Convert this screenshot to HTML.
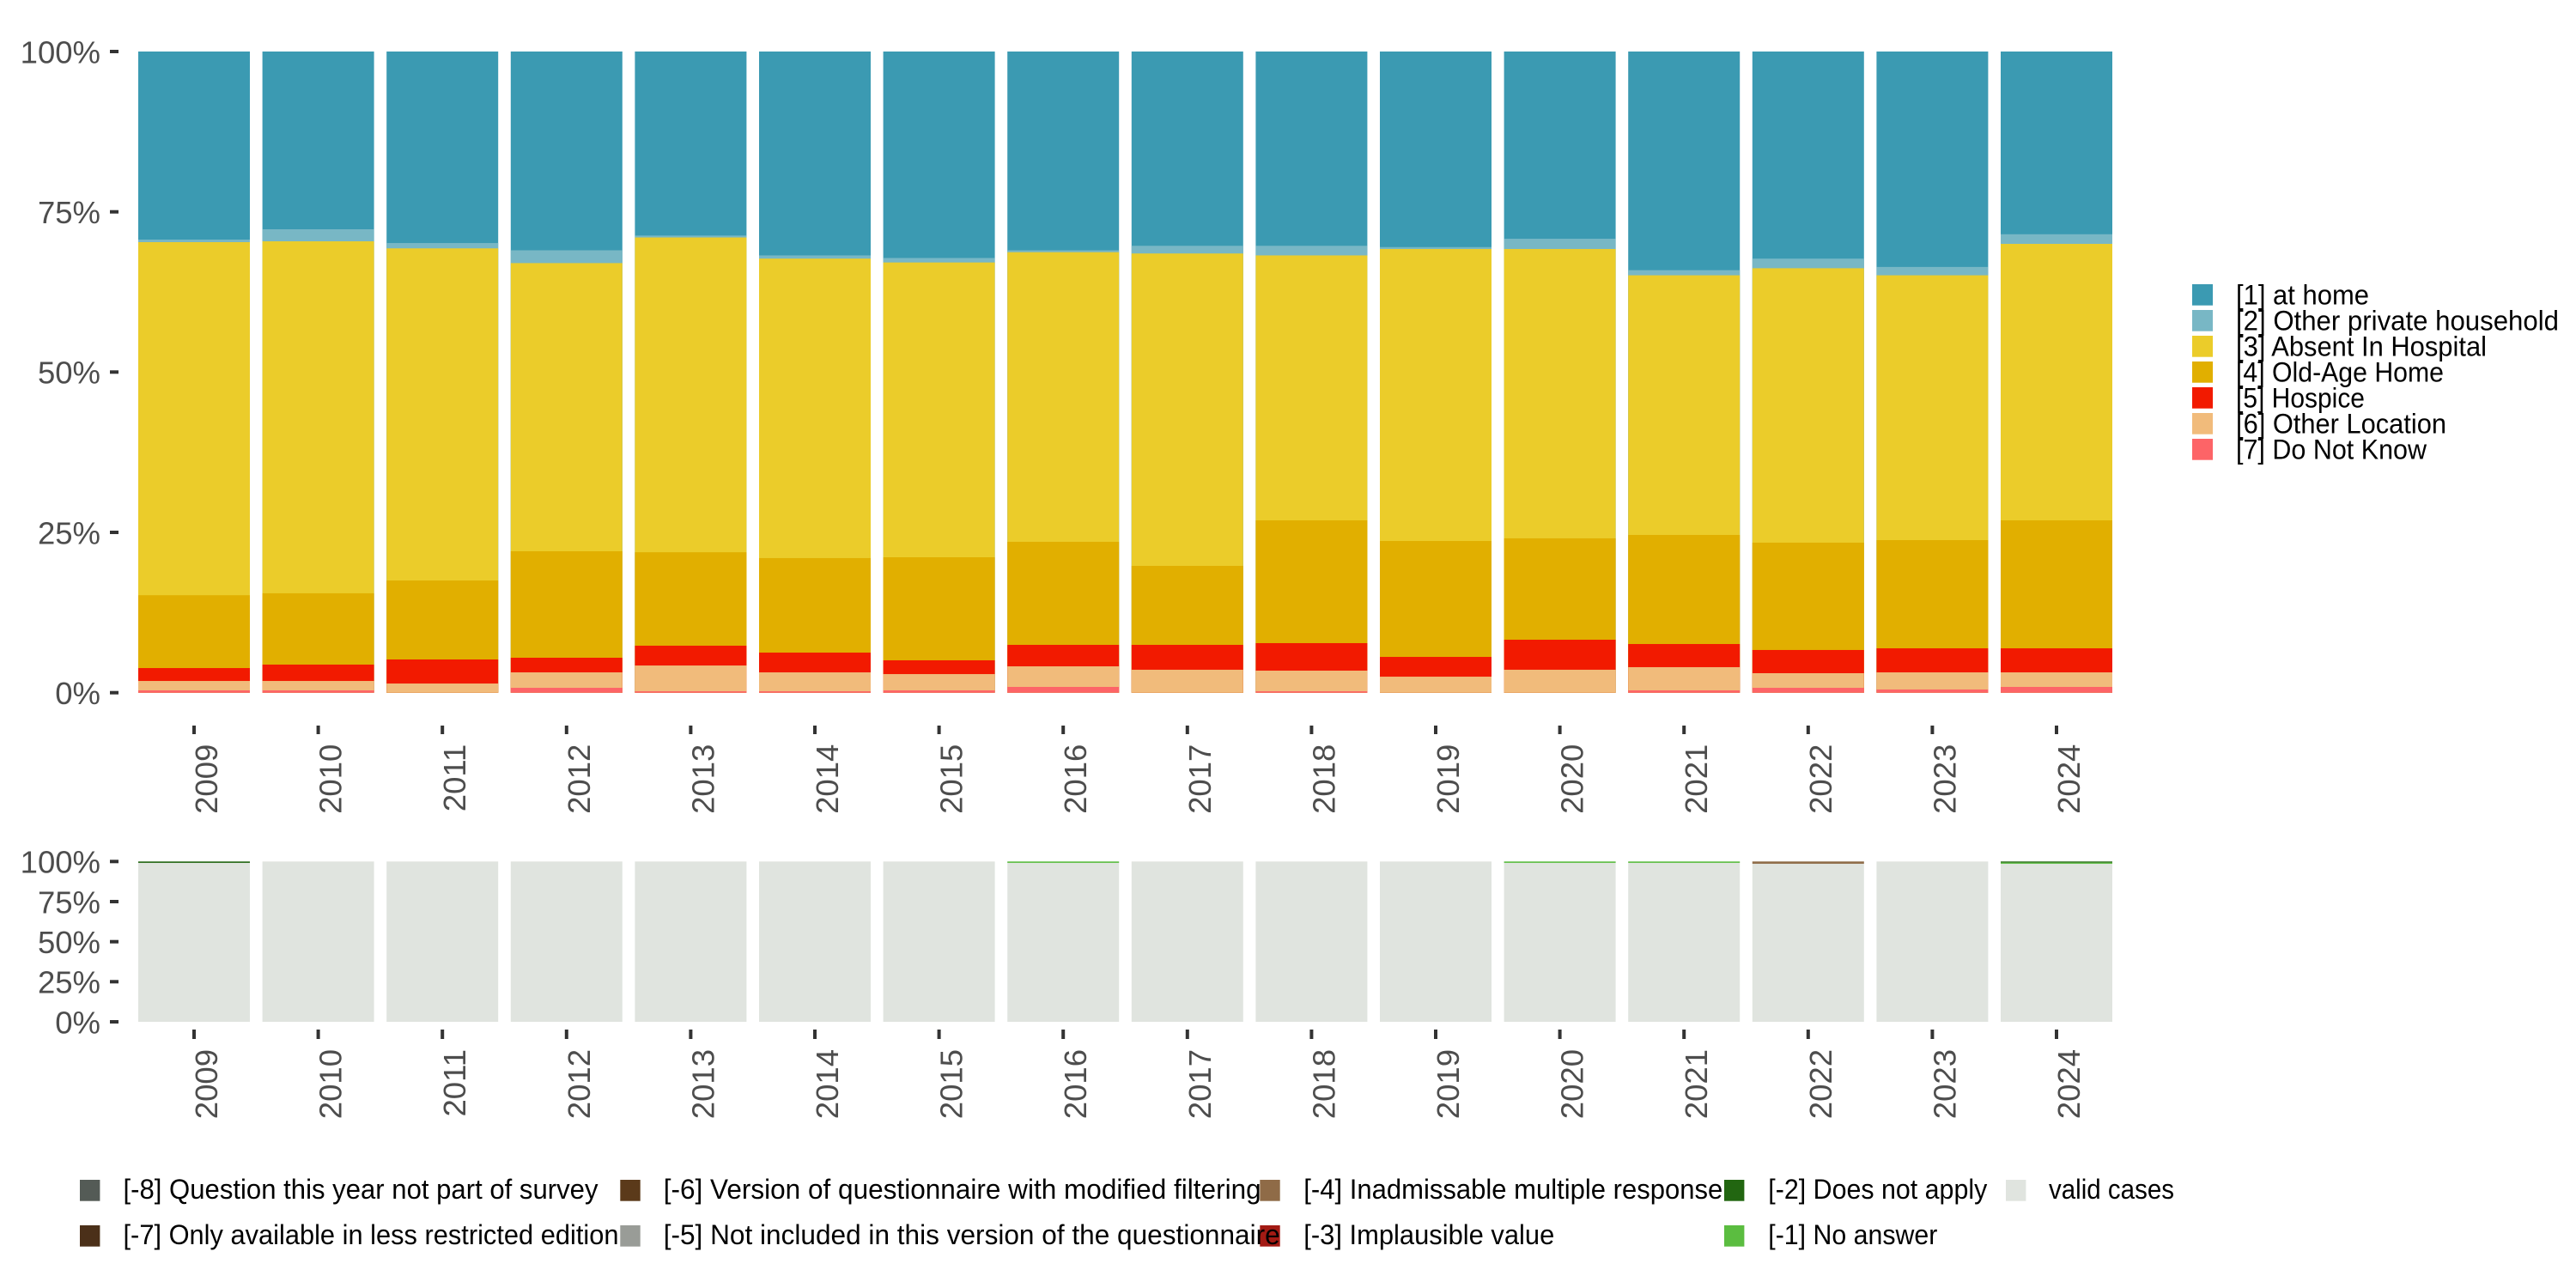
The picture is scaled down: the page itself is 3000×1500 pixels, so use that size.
<!DOCTYPE html>
<html>
<head>
<meta charset="utf-8">
<style>
html,body{margin:0;padding:0;background:#fff;}
svg{display:block;}
text{font-family:"Liberation Sans","DejaVu Sans",sans-serif;}
</style>
</head>
<body>
<svg width="3000" height="1500" viewBox="0 0 3000 1500" xmlns="http://www.w3.org/2000/svg">
<rect x="0" y="0" width="3000" height="1500" fill="#ffffff"/>

<!-- ===== TOP PLOT BARS ===== -->
<g transform="translate(0,806.7) scale(1,-7.467)">
  <g transform="translate(161,0)">
    <rect width="130" height="100" fill="#3B9AB2"/>
    <rect width="130" height="70.67" fill="#78B7C5"/>
    <rect width="130" height="70.27" fill="#EBCC2A"/>
    <rect width="130" height="15.2" fill="#E1AF00"/>
    <rect width="130" height="3.84" fill="#F21A00"/>
    <rect width="130" height="1.83" fill="#F1BB7B"/>
    <rect width="130" height="0.36" fill="#FD6467"/>
  </g>
  <g transform="translate(305.6,0)">
    <rect width="130" height="100" fill="#3B9AB2"/>
    <rect width="130" height="72.28" fill="#78B7C5"/>
    <rect width="130" height="70.4" fill="#EBCC2A"/>
    <rect width="130" height="15.5" fill="#E1AF00"/>
    <rect width="130" height="4.38" fill="#F21A00"/>
    <rect width="130" height="1.83" fill="#F1BB7B"/>
    <rect width="130" height="0.36" fill="#FD6467"/>
  </g>
  <g transform="translate(450.2,0)">
    <rect width="130" height="100" fill="#3B9AB2"/>
    <rect width="130" height="70.13" fill="#78B7C5"/>
    <rect width="130" height="69.3" fill="#EBCC2A"/>
    <rect width="130" height="17.5" fill="#E1AF00"/>
    <rect width="130" height="5.18" fill="#F21A00"/>
    <rect width="130" height="1.43" fill="#F1BB7B"/>
  </g>
  <g transform="translate(594.8,0)">
    <rect width="130" height="100" fill="#3B9AB2"/>
    <rect width="130" height="69.0" fill="#78B7C5"/>
    <rect width="130" height="67.0" fill="#EBCC2A"/>
    <rect width="130" height="22.06" fill="#E1AF00"/>
    <rect width="130" height="5.45" fill="#F21A00"/>
    <rect width="130" height="3.17" fill="#F1BB7B"/>
    <rect width="130" height="0.76" fill="#FD6467"/>
  </g>
  <g transform="translate(739.4,0)">
    <rect width="130" height="100" fill="#3B9AB2"/>
    <rect width="130" height="71.3" fill="#78B7C5"/>
    <rect width="130" height="71.0" fill="#EBCC2A"/>
    <rect width="130" height="21.9" fill="#E1AF00"/>
    <rect width="130" height="7.33" fill="#F21A00"/>
    <rect width="130" height="4.24" fill="#F1BB7B"/>
    <rect width="130" height="0.22" fill="#FD6467"/>
  </g>
  <g transform="translate(884,0)">
    <rect width="130" height="100" fill="#3B9AB2"/>
    <rect width="130" height="68.2" fill="#78B7C5"/>
    <rect width="130" height="67.7" fill="#EBCC2A"/>
    <rect width="130" height="20.99" fill="#E1AF00"/>
    <rect width="130" height="6.25" fill="#F21A00"/>
    <rect width="130" height="3.17" fill="#F1BB7B"/>
    <rect width="130" height="0.22" fill="#FD6467"/>
  </g>
  <g transform="translate(1028.6,0)">
    <rect width="130" height="100" fill="#3B9AB2"/>
    <rect width="130" height="67.8" fill="#78B7C5"/>
    <rect width="130" height="67.1" fill="#EBCC2A"/>
    <rect width="130" height="21.12" fill="#E1AF00"/>
    <rect width="130" height="5.05" fill="#F21A00"/>
    <rect width="130" height="2.9" fill="#F1BB7B"/>
    <rect width="130" height="0.36" fill="#FD6467"/>
  </g>
  <g transform="translate(1173.2,0)">
    <rect width="130" height="100" fill="#3B9AB2"/>
    <rect width="130" height="69.0" fill="#78B7C5"/>
    <rect width="130" height="68.7" fill="#EBCC2A"/>
    <rect width="130" height="23.53" fill="#E1AF00"/>
    <rect width="130" height="7.46" fill="#F21A00"/>
    <rect width="130" height="4.11" fill="#F1BB7B"/>
    <rect width="130" height="0.9" fill="#FD6467"/>
  </g>
  <g transform="translate(1317.8,0)">
    <rect width="130" height="100" fill="#3B9AB2"/>
    <rect width="130" height="69.7" fill="#78B7C5"/>
    <rect width="130" height="68.5" fill="#EBCC2A"/>
    <rect width="130" height="19.78" fill="#E1AF00"/>
    <rect width="130" height="7.46" fill="#F21A00"/>
    <rect width="130" height="3.58" fill="#F1BB7B"/>
  </g>
  <g transform="translate(1462.4,0)">
    <rect width="130" height="100" fill="#3B9AB2"/>
    <rect width="130" height="69.7" fill="#78B7C5"/>
    <rect width="130" height="68.2" fill="#EBCC2A"/>
    <rect width="130" height="26.88" fill="#E1AF00"/>
    <rect width="130" height="7.73" fill="#F21A00"/>
    <rect width="130" height="3.44" fill="#F1BB7B"/>
    <rect width="130" height="0.22" fill="#FD6467"/>
  </g>
  <g transform="translate(1607,0)">
    <rect width="130" height="100" fill="#3B9AB2"/>
    <rect width="130" height="69.5" fill="#78B7C5"/>
    <rect width="130" height="69.2" fill="#EBCC2A"/>
    <rect width="130" height="23.66" fill="#E1AF00"/>
    <rect width="130" height="5.58" fill="#F21A00"/>
    <rect width="130" height="2.5" fill="#F1BB7B"/>
  </g>
  <g transform="translate(1751.6,0)">
    <rect width="130" height="100" fill="#3B9AB2"/>
    <rect width="130" height="70.8" fill="#78B7C5"/>
    <rect width="130" height="69.2" fill="#EBCC2A"/>
    <rect width="130" height="24.07" fill="#E1AF00"/>
    <rect width="130" height="8.26" fill="#F21A00"/>
    <rect width="130" height="3.58" fill="#F1BB7B"/>
  </g>
  <g transform="translate(1896.2,0)">
    <rect width="130" height="100" fill="#3B9AB2"/>
    <rect width="130" height="65.9" fill="#78B7C5"/>
    <rect width="130" height="65.1" fill="#EBCC2A"/>
    <rect width="130" height="24.6" fill="#E1AF00"/>
    <rect width="130" height="7.59" fill="#F21A00"/>
    <rect width="130" height="3.98" fill="#F1BB7B"/>
    <rect width="130" height="0.36" fill="#FD6467"/>
  </g>
  <g transform="translate(2040.8,0)">
    <rect width="130" height="100" fill="#3B9AB2"/>
    <rect width="130" height="67.7" fill="#78B7C5"/>
    <rect width="130" height="66.2" fill="#EBCC2A"/>
    <rect width="130" height="23.4" fill="#E1AF00"/>
    <rect width="130" height="6.66" fill="#F21A00"/>
    <rect width="130" height="3.04" fill="#F1BB7B"/>
    <rect width="130" height="0.76" fill="#FD6467"/>
  </g>
  <g transform="translate(2185.4,0)">
    <rect width="130" height="100" fill="#3B9AB2"/>
    <rect width="130" height="66.4" fill="#78B7C5"/>
    <rect width="130" height="65.1" fill="#EBCC2A"/>
    <rect width="130" height="23.8" fill="#E1AF00"/>
    <rect width="130" height="6.92" fill="#F21A00"/>
    <rect width="130" height="3.17" fill="#F1BB7B"/>
    <rect width="130" height="0.5" fill="#FD6467"/>
  </g>
  <g transform="translate(2330,0)">
    <rect width="130" height="100" fill="#3B9AB2"/>
    <rect width="130" height="71.5" fill="#78B7C5"/>
    <rect width="130" height="70.0" fill="#EBCC2A"/>
    <rect width="130" height="26.88" fill="#E1AF00"/>
    <rect width="130" height="6.92" fill="#F21A00"/>
    <rect width="130" height="3.17" fill="#F1BB7B"/>
    <rect width="130" height="0.9" fill="#FD6467"/>
  </g>
</g>

<!-- ===== TOP Y AXIS ===== -->
<g stroke="#333333" stroke-width="4">
  <line x1="128" y1="60" x2="138" y2="60"/>
  <line x1="128" y1="246.7" x2="138" y2="246.7"/>
  <line x1="128" y1="433.3" x2="138" y2="433.3"/>
  <line x1="128" y1="620" x2="138" y2="620"/>
  <line x1="128" y1="806.7" x2="138" y2="806.7"/>
</g>
<g font-size="36.5" fill="#4D4D4D" text-anchor="end">
  <text x="117" y="73.3">100%</text>
  <text x="117" y="260">75%</text>
  <text x="117" y="446.6">50%</text>
  <text x="117" y="633.3">25%</text>
  <text x="117" y="820">0%</text>
</g>

<!-- ===== TOP X AXIS ===== -->
<g stroke="#333333" stroke-width="4">
  <line x1="226" y1="845" x2="226" y2="855"/>
  <line x1="370.6" y1="845" x2="370.6" y2="855"/>
  <line x1="515.2" y1="845" x2="515.2" y2="855"/>
  <line x1="659.8" y1="845" x2="659.8" y2="855"/>
  <line x1="804.4" y1="845" x2="804.4" y2="855"/>
  <line x1="949" y1="845" x2="949" y2="855"/>
  <line x1="1093.6" y1="845" x2="1093.6" y2="855"/>
  <line x1="1238.2" y1="845" x2="1238.2" y2="855"/>
  <line x1="1382.8" y1="845" x2="1382.8" y2="855"/>
  <line x1="1527.4" y1="845" x2="1527.4" y2="855"/>
  <line x1="1672" y1="845" x2="1672" y2="855"/>
  <line x1="1816.6" y1="845" x2="1816.6" y2="855"/>
  <line x1="1961.2" y1="845" x2="1961.2" y2="855"/>
  <line x1="2105.8" y1="845" x2="2105.8" y2="855"/>
  <line x1="2250.4" y1="845" x2="2250.4" y2="855"/>
  <line x1="2395" y1="845" x2="2395" y2="855"/>
</g>
<g font-size="36.5" fill="#4D4D4D" text-anchor="end">
  <text transform="translate(253,866.7) rotate(-90)">2009</text>
  <text transform="translate(397.6,866.7) rotate(-90)">2010</text>
  <text transform="translate(542.2,866.7) rotate(-90)">2011</text>
  <text transform="translate(686.8,866.7) rotate(-90)">2012</text>
  <text transform="translate(831.4,866.7) rotate(-90)">2013</text>
  <text transform="translate(976,866.7) rotate(-90)">2014</text>
  <text transform="translate(1120.6,866.7) rotate(-90)">2015</text>
  <text transform="translate(1265.2,866.7) rotate(-90)">2016</text>
  <text transform="translate(1409.8,866.7) rotate(-90)">2017</text>
  <text transform="translate(1554.4,866.7) rotate(-90)">2018</text>
  <text transform="translate(1699,866.7) rotate(-90)">2019</text>
  <text transform="translate(1843.6,866.7) rotate(-90)">2020</text>
  <text transform="translate(1988.2,866.7) rotate(-90)">2021</text>
  <text transform="translate(2132.8,866.7) rotate(-90)">2022</text>
  <text transform="translate(2277.4,866.7) rotate(-90)">2023</text>
  <text transform="translate(2422,866.7) rotate(-90)">2024</text>
</g>

<!-- ===== RIGHT LEGEND ===== -->
<g>
  <rect x="2553" y="331" width="24" height="24.7" fill="#3B9AB2"/>
  <rect x="2553" y="361" width="24" height="24.7" fill="#78B7C5"/>
  <rect x="2553" y="391" width="24" height="24.7" fill="#EBCC2A"/>
  <rect x="2553" y="421" width="24" height="24.7" fill="#E1AF00"/>
  <rect x="2553" y="451" width="24" height="24.7" fill="#F21A00"/>
  <rect x="2553" y="481" width="24" height="24.7" fill="#F1BB7B"/>
  <rect x="2553" y="511" width="24" height="24.7" fill="#FD6467"/>
</g>
<g font-size="32.5" fill="#000000">
  <text x="2604" y="354.3" textLength="155" lengthAdjust="spacingAndGlyphs">[1] at home</text>
  <text x="2604" y="384.3" textLength="376" lengthAdjust="spacingAndGlyphs">[2] Other private household</text>
  <text x="2604" y="414.3" textLength="292" lengthAdjust="spacingAndGlyphs">[3] Absent In Hospital</text>
  <text x="2604" y="444.3" textLength="242" lengthAdjust="spacingAndGlyphs">[4] Old-Age Home</text>
  <text x="2604" y="474.3" textLength="150" lengthAdjust="spacingAndGlyphs">[5] Hospice</text>
  <text x="2604" y="504.3" textLength="245" lengthAdjust="spacingAndGlyphs">[6] Other Location</text>
  <text x="2604" y="534.3" textLength="222" lengthAdjust="spacingAndGlyphs">[7] Do Not Know</text>
</g>

<!-- ===== BOTTOM PLOT BARS ===== -->
<g fill="#E0E4DF">
  <rect x="161" y="1003.3" width="130" height="186.7"/>
  <rect x="305.6" y="1003.3" width="130" height="186.7"/>
  <rect x="450.2" y="1003.3" width="130" height="186.7"/>
  <rect x="594.8" y="1003.3" width="130" height="186.7"/>
  <rect x="739.4" y="1003.3" width="130" height="186.7"/>
  <rect x="884" y="1003.3" width="130" height="186.7"/>
  <rect x="1028.6" y="1003.3" width="130" height="186.7"/>
  <rect x="1173.2" y="1003.3" width="130" height="186.7"/>
  <rect x="1317.8" y="1003.3" width="130" height="186.7"/>
  <rect x="1462.4" y="1003.3" width="130" height="186.7"/>
  <rect x="1607" y="1003.3" width="130" height="186.7"/>
  <rect x="1751.6" y="1003.3" width="130" height="186.7"/>
  <rect x="1896.2" y="1003.3" width="130" height="186.7"/>
  <rect x="2040.8" y="1003.3" width="130" height="186.7"/>
  <rect x="2185.4" y="1003.3" width="130" height="186.7"/>
  <rect x="2330" y="1003.3" width="130" height="186.7"/>
</g>
<rect x="161" y="1003.3" width="130" height="1.6" fill="#226611"/>
<rect x="1173.2" y="1003.3" width="130" height="1.6" fill="#5BBD40"/>
<rect x="1751.6" y="1003.3" width="130" height="1.6" fill="#5BBD40"/>
<rect x="1896.2" y="1003.3" width="130" height="1.6" fill="#5BBD40"/>
<rect x="2040.8" y="1003.3" width="130" height="2.6" fill="#8F6B47"/>
<rect x="2330" y="1003.3" width="130" height="1.3" fill="#226611"/>
<rect x="2330" y="1004.6" width="130" height="1.3" fill="#5BBD40"/>

<!-- ===== BOTTOM Y AXIS ===== -->
<g stroke="#333333" stroke-width="4">
  <line x1="128" y1="1003.3" x2="138" y2="1003.3"/>
  <line x1="128" y1="1050" x2="138" y2="1050"/>
  <line x1="128" y1="1096.7" x2="138" y2="1096.7"/>
  <line x1="128" y1="1143.3" x2="138" y2="1143.3"/>
  <line x1="128" y1="1190" x2="138" y2="1190"/>
</g>
<g font-size="36.5" fill="#4D4D4D" text-anchor="end">
  <text x="117" y="1016.6">100%</text>
  <text x="117" y="1063.3">75%</text>
  <text x="117" y="1110">50%</text>
  <text x="117" y="1156.6">25%</text>
  <text x="117" y="1203.3">0%</text>
</g>

<!-- ===== BOTTOM X AXIS ===== -->
<g stroke="#333333" stroke-width="4">
  <line x1="226" y1="1199" x2="226" y2="1210"/>
  <line x1="370.6" y1="1199" x2="370.6" y2="1210"/>
  <line x1="515.2" y1="1199" x2="515.2" y2="1210"/>
  <line x1="659.8" y1="1199" x2="659.8" y2="1210"/>
  <line x1="804.4" y1="1199" x2="804.4" y2="1210"/>
  <line x1="949" y1="1199" x2="949" y2="1210"/>
  <line x1="1093.6" y1="1199" x2="1093.6" y2="1210"/>
  <line x1="1238.2" y1="1199" x2="1238.2" y2="1210"/>
  <line x1="1382.8" y1="1199" x2="1382.8" y2="1210"/>
  <line x1="1527.4" y1="1199" x2="1527.4" y2="1210"/>
  <line x1="1672" y1="1199" x2="1672" y2="1210"/>
  <line x1="1816.6" y1="1199" x2="1816.6" y2="1210"/>
  <line x1="1961.2" y1="1199" x2="1961.2" y2="1210"/>
  <line x1="2105.8" y1="1199" x2="2105.8" y2="1210"/>
  <line x1="2250.4" y1="1199" x2="2250.4" y2="1210"/>
  <line x1="2395" y1="1199" x2="2395" y2="1210"/>
</g>
<g font-size="36.5" fill="#4D4D4D" text-anchor="end">
  <text transform="translate(253,1222) rotate(-90)">2009</text>
  <text transform="translate(397.6,1222) rotate(-90)">2010</text>
  <text transform="translate(542.2,1222) rotate(-90)">2011</text>
  <text transform="translate(686.8,1222) rotate(-90)">2012</text>
  <text transform="translate(831.4,1222) rotate(-90)">2013</text>
  <text transform="translate(976,1222) rotate(-90)">2014</text>
  <text transform="translate(1120.6,1222) rotate(-90)">2015</text>
  <text transform="translate(1265.2,1222) rotate(-90)">2016</text>
  <text transform="translate(1409.8,1222) rotate(-90)">2017</text>
  <text transform="translate(1554.4,1222) rotate(-90)">2018</text>
  <text transform="translate(1699,1222) rotate(-90)">2019</text>
  <text transform="translate(1843.6,1222) rotate(-90)">2020</text>
  <text transform="translate(1988.2,1222) rotate(-90)">2021</text>
  <text transform="translate(2132.8,1222) rotate(-90)">2022</text>
  <text transform="translate(2277.4,1222) rotate(-90)">2023</text>
  <text transform="translate(2422,1222) rotate(-90)">2024</text>
</g>

<!-- ===== BOTTOM LEGEND ===== -->
<g>
  <rect x="93" y="1374" width="23.4" height="24.7" fill="#545B56"/>
  <rect x="93" y="1427" width="23.4" height="24.7" fill="#4B3019"/>
  <rect x="722.3" y="1374" width="23.4" height="24.7" fill="#5B3A1A"/>
  <rect x="722.3" y="1427" width="23.4" height="24.7" fill="#999C97"/>
  <rect x="1467.3" y="1374" width="23.4" height="24.7" fill="#8F6B47"/>
  <rect x="1467.3" y="1427" width="23.4" height="24.7" fill="#A31B14"/>
  <rect x="2008" y="1374" width="23.4" height="24.7" fill="#226611"/>
  <rect x="2008" y="1427" width="23.4" height="24.7" fill="#5BBD40"/>
  <rect x="2336" y="1374" width="23.4" height="24.7" fill="#E0E4DF"/>
</g>
<g font-size="32.5" fill="#000000">
  <text x="143.5" y="1396" textLength="553" lengthAdjust="spacingAndGlyphs">[-8] Question this year not part of survey</text>
  <text x="143.5" y="1449" textLength="577" lengthAdjust="spacingAndGlyphs">[-7] Only available in less restricted edition</text>
  <text x="772.7" y="1396" textLength="696" lengthAdjust="spacingAndGlyphs">[-6] Version of questionnaire with modified filtering</text>
  <text x="772.7" y="1449" textLength="718" lengthAdjust="spacingAndGlyphs">[-5] Not included in this version of the questionnaire</text>
  <text x="1518.3" y="1396" textLength="488" lengthAdjust="spacingAndGlyphs">[-4] Inadmissable multiple response</text>
  <text x="1518.3" y="1449" textLength="292" lengthAdjust="spacingAndGlyphs">[-3] Implausible value</text>
  <text x="2059.3" y="1396" textLength="255" lengthAdjust="spacingAndGlyphs">[-2] Does not apply</text>
  <text x="2059.3" y="1449" textLength="197" lengthAdjust="spacingAndGlyphs">[-1] No answer</text>
  <text x="2386" y="1396" textLength="146" lengthAdjust="spacingAndGlyphs">valid cases</text>
</g>
</svg>
</body>
</html>
